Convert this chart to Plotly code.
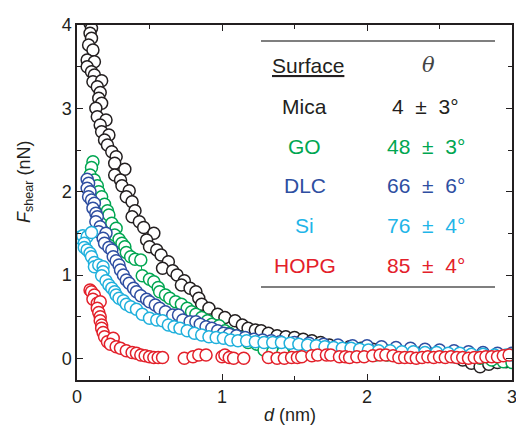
import plotly.graph_objects as go

# ---------------- data ----------------
mica_d = [0.08,0.09,0.10,0.09,0.10,0.08,0.11,0.07,0.12,0.07,0.10,0.12,0.11,0.17,0.14,0.16,0.15,0.17,0.13,0.14,0.20,0.16,0.17,0.22,0.19,0.21,0.24,0.27,0.26,0.33,0.26,0.30,0.31,0.36,0.34,0.38,
          0.40,0.38,0.43,0.46,0.53,0.48,0.50,0.55,0.58,0.63,0.59,0.66,0.69,0.74,0.72,0.78,0.82,0.84,0.86,0.91,0.97,1.02,1.09,1.14,1.18,1.23,1.27,1.32,1.38,1.44,1.50,1.56,1.62,1.68,1.74,1.80,
          1.88,1.96,2.04,2.12,2.20,2.28,2.36,2.44,2.52,2.60,2.66,2.72,2.78,2.84,2.90,2.96,3.00]
mica_f = [4.15,4.02,3.96,3.90,3.84,3.76,3.70,3.58,3.56,3.50,3.44,3.40,3.32,3.33,3.26,3.19,3.12,3.06,3.00,2.90,2.86,2.80,2.72,2.68,2.62,2.56,2.48,2.42,2.34,2.27,2.20,2.14,2.07,2.01,1.94,1.88,
          1.77,1.70,1.64,1.57,1.50,1.42,1.34,1.30,1.24,1.16,1.08,1.05,1.00,0.93,0.88,0.84,0.80,0.72,0.65,0.60,0.53,0.49,0.45,0.40,0.36,0.34,0.33,0.30,0.27,0.26,0.25,0.23,0.21,0.19,0.16,0.15,
          0.14,0.12,0.11,0.10,0.09,0.07,0.06,0.05,0.03,0.02,-0.02,-0.06,-0.10,-0.07,-0.05,-0.04,-0.04]

go_d = [0.11,0.10,0.09,0.12,0.14,0.15,0.17,0.19,0.21,0.22,0.24,0.27,0.26,0.29,0.31,0.33,0.34,0.37,0.40,0.44,0.45,0.50,0.53,0.56,0.57,0.61,0.64,0.68,0.72,0.76,0.79,0.82,0.86,0.90,0.93,0.98,
        1.02,1.05,1.09,1.14,1.18,1.24,1.29,1.35,1.42,1.50,1.58,1.66,1.74,1.82,1.90,1.98,2.06,2.14,2.22,2.30,2.38,2.46,2.54,2.62,2.70,2.78,2.86,2.94,3.00]
go_f = [2.36,2.29,2.20,2.14,2.07,2.00,1.94,1.85,1.77,1.72,1.62,1.56,1.48,1.43,1.38,1.34,1.27,1.22,1.19,1.18,0.99,0.95,0.92,0.85,0.80,0.76,0.72,0.68,0.65,0.60,0.56,0.53,0.49,0.45,0.41,0.39,
        0.33,0.30,0.27,0.25,0.19,0.17,0.10,0.08,0.07,0.06,0.06,0.05,0.05,0.05,0.05,0.05,0.04,0.04,0.04,0.03,0.03,0.03,0.02,0.02,0.01,0.00,-0.02,-0.04,-0.05]

dlc_d = [0.07,0.08,0.07,0.09,0.08,0.10,0.12,0.11,0.13,0.14,0.13,0.16,0.15,0.20,0.18,0.19,0.22,0.24,0.25,0.27,0.29,0.30,0.32,0.34,0.36,0.39,0.41,0.44,0.48,0.50,0.54,0.57,0.61,0.66,0.70,0.73,
         0.78,0.82,0.85,0.89,0.93,0.97,1.01,1.05,1.10,1.16,1.22,1.28,1.34,1.40,1.50,1.60,1.70,1.80,1.90,2.00,2.10,2.20,2.30,2.40,2.50,2.60,2.70,2.80,2.90,3.00]
dlc_f = [2.15,2.10,2.04,2.00,1.94,1.90,1.86,1.80,1.74,1.70,1.64,1.58,1.52,1.50,1.44,1.38,1.33,1.30,1.22,1.17,1.12,1.06,1.00,0.94,0.90,0.84,0.80,0.75,0.71,0.68,0.64,0.60,0.56,0.52,0.52,0.46,
         0.44,0.44,0.41,0.38,0.36,0.33,0.30,0.29,0.27,0.25,0.23,0.22,0.21,0.20,0.19,0.18,0.17,0.16,0.15,0.15,0.14,0.13,0.12,0.11,0.10,0.09,0.08,0.07,0.06,0.06]

si_d = [0.01,0.04,0.07,0.10,0.05,0.05,0.07,0.09,0.10,0.12,0.12,0.15,0.18,0.18,0.17,0.20,0.22,0.24,0.26,0.27,0.29,0.32,0.34,0.37,0.41,0.45,0.50,0.55,0.59,0.63,0.67,0.71,0.76,0.81,0.86,0.91,
        0.96,1.01,1.06,1.11,1.17,1.23,1.29,1.35,1.41,1.47,1.53,1.59,1.65,1.71,1.77,1.83,1.89,1.95,2.01,2.08,2.16,2.24,2.32,2.40,2.48,2.56,2.64,2.72,2.80,2.88,2.96,3.00]
si_f = [1.45,1.47,1.46,1.51,1.38,1.33,1.30,1.26,1.22,1.15,1.10,1.12,1.10,1.04,0.99,0.93,0.88,0.84,0.80,0.76,0.72,0.69,0.65,0.62,0.59,0.53,0.48,0.46,0.45,0.40,0.38,0.36,0.33,0.30,0.28,0.26,
        0.25,0.24,0.22,0.21,0.21,0.20,0.19,0.19,0.19,0.18,0.17,0.16,0.15,0.14,0.13,0.12,0.12,0.11,0.10,0.09,0.09,0.08,0.08,0.07,0.07,0.06,0.06,0.05,0.05,0.04,0.04,0.04]

hopg_d = [0.09,0.10,0.12,0.11,0.14,0.16,0.14,0.15,0.16,0.16,0.17,0.17,0.18,0.19,0.21,0.25,0.23,0.27,0.30,0.34,0.38,0.41,0.44,0.47,0.50,0.53,0.56,0.59,
          0.74,0.80,0.84,0.89,1.00,1.02,1.05,1.08,1.15,
          1.32,1.38,1.43,1.48,1.52,1.55,1.62,1.66,1.72,1.75,1.81,1.85,1.88,1.93,1.98,2.04,2.09,2.13,2.18,2.22,2.26,2.30,2.34,2.38,2.42,2.46,2.50,2.54,2.58,2.62,2.66,2.70,2.74,2.78,2.82,2.86,2.90,2.94,2.98]
hopg_f = [0.82,0.80,0.76,0.71,0.66,0.68,0.60,0.55,0.50,0.45,0.40,0.36,0.31,0.26,0.20,0.24,0.17,0.14,0.12,0.09,0.07,0.06,0.04,0.03,0.02,0.01,0.01,0.01,
          0.00,0.02,0.04,0.04,0.02,0.04,0.01,0.00,0.00,
          0.01,0.00,0.00,0.01,0.01,0.02,0.03,0.04,0.04,0.04,0.02,0.02,0.01,0.02,0.02,0.03,0.04,0.04,0.03,0.01,0.01,0.01,0.00,0.01,0.02,0.01,0.02,0.01,0.02,0.01,0.01,0.00,0.01,0.01,0.02,0.02,0.02,0.03,0.04]

surfaces = ["Mica", "GO", "DLC", "Si", "HOPG"]
angles = ["4  ±  3°", "48  ±  3°", "66  ±  6°", "76  ±  4°", "85  ±  4°"]
colors = ["#231f20", "#00a651", "#2e4ea1", "#1fb0dc", "#e3202a"]
text_colors = ["#231f20", "#00a651", "#2e4ea1", "#1fb5e8", "#e3202a"]

x_ticks = [0, 1, 2, 3]
y_ticks = [0, 1, 2, 3, 4]

FONT = "Liberation Sans, Arial, Helvetica, sans-serif"
AX = "#231f20"

fig = go.Figure()
series = [(mica_d, mica_f, True), (go_d, go_f, True), (dlc_d, dlc_f, True),
          (si_d, si_f, True), (hopg_d, hopg_f, False)]
for (xd, yd, withline), col in zip(series, colors):
    fig.add_trace(go.Scatter(
        x=xd, y=yd,
        mode="lines+markers" if withline else "markers",
        line=dict(color=col, width=1),
        marker=dict(symbol="circle", size=12, color="white",
                    line=dict(color=col, width=1.5)),
        showlegend=False, cliponaxis=True,
    ))

axis_common = dict(
    showline=True, linecolor=AX, linewidth=1.5, mirror="allticks",
    ticks="inside", ticklen=6, tickwidth=1.2, tickcolor=AX,
    showgrid=False, zeroline=False,
    tickfont=dict(family=FONT, size=18, color=AX),
    minor=dict(ticks="inside", ticklen=4, tickwidth=1.2, tickcolor=AX, dtick=0.5),
)
fig.update_xaxes(range=[0, 3], tickvals=x_ticks, ticktext=[str(v) for v in x_ticks], **axis_common)
fig.update_yaxes(range=[-0.26, 4], tickvals=y_ticks, ticktext=[str(v) for v in y_ticks], **axis_common)

def ann(text, x, y, size, color, family=FONT, **kw):
    d = dict(text=text, x=x, y=y, xref="paper", yref="paper", showarrow=False,
             xanchor="center", yanchor="middle", font=dict(family=family, size=size, color=color))
    d.update(kw)
    return d

DY = 0.011  # visual centre of caps sits a bit below the box centre
annotations = [
    ann("<i>d</i> (nm)", 0.489, -0.11 + DY, 18, AX),
    ann("<i>F</i><sub>shear</sub> (nN)", -0.12, 0.56, 18, AX, textangle=-90),
    ann("<u>Surface</u>", 0.530, 0.876 + DY, 21, AX),
    ann("<i>θ</i>", 0.807, 0.876 + DY, 21, "#444444", family="DejaVu Serif, serif"),
]
row_y = [0.760, 0.646, 0.536, 0.423, 0.312]
for s, a, c, yy in zip(surfaces, angles, text_colors, row_y):
    annotations.append(ann(s, 0.523, yy + DY, 21, c))
    annotations.append(ann(a, 0.802, yy + DY, 21, c))

shapes = [
    dict(type="line", xref="paper", yref="paper", x0=0.423, x1=0.961, y0=0.955, y1=0.955,
         line=dict(color="#555555", width=1.5)),
    dict(type="line", xref="paper", yref="paper", x0=0.423, x1=0.961, y0=0.262, y1=0.262,
         line=dict(color="#555555", width=1.5)),
]

# page has an 8px body margin, so the figure is 8px smaller than the window
fig.update_layout(
    width=516, height=426,
    margin=dict(l=69, r=7, t=10, b=54),
    paper_bgcolor="white", plot_bgcolor="white",
    annotations=annotations, shapes=shapes,
    font=dict(family=FONT, color=AX),
)

fig.write_html("out.html")
